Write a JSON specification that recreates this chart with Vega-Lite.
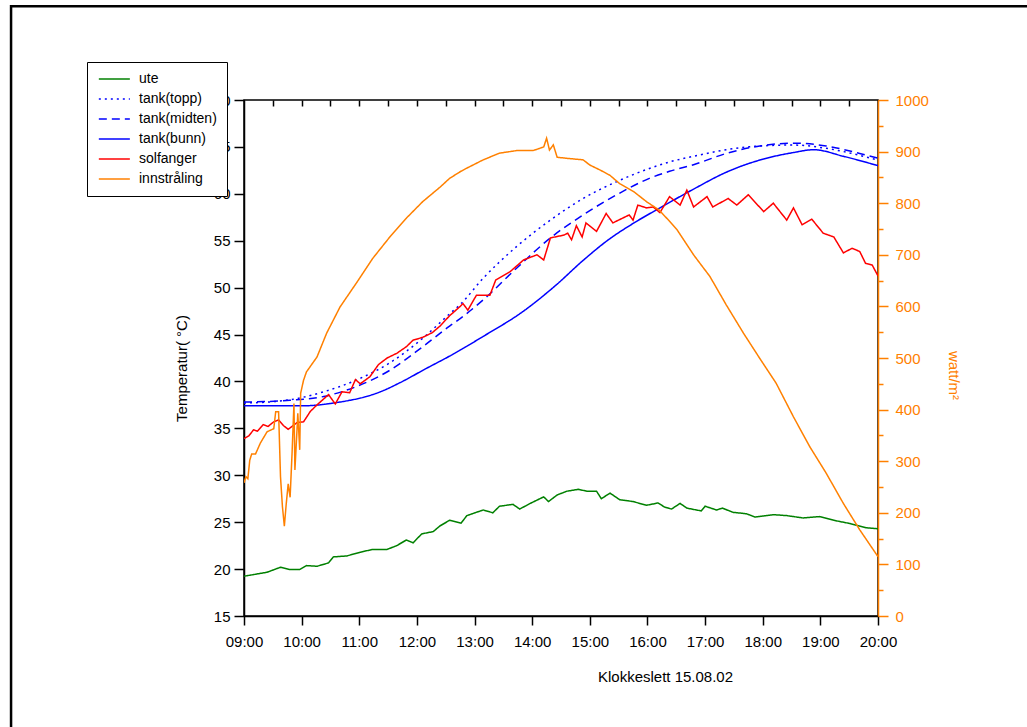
{
  "$schema": "https://vega.github.io/schema/vega-lite/v6.json",
  "width": 634,
  "height": 516,
  "autosize": "none",
  "padding": {"left": 244, "top": 100, "right": 149, "bottom": 111},
  "background": "white",
  "config": {
    "view": {"stroke": "black", "strokeWidth": 1.5},
    "font": "Liberation Sans",
    "axis": {
      "labelFont": "Liberation Sans", "titleFont": "Liberation Sans",
      "labelFontSize": 15, "titleFontSize": 15, "titleFontWeight": "normal",
      "grid": false, "domainColor": "black", "tickColor": "black",
      "labelColor": "black", "titleColor": "black", "domainWidth": 1.5, "tickWidth": 1.5
    },
    "legend": {
      "fillColor": "white", "strokeColor": "black", "padding": 10,
      "labelFont": "Liberation Sans", "labelFontSize": 14, "labelColor": "black",
      "symbolType": "M-1,0H5", "symbolSize": 107, "symbolStrokeWidth": 1.5,
      "symbolFillColor": "transparent", "rowPadding": 6, "labelOffset": 28, "cornerRadius": 0
    }
  },
  "resolve": {"scale": {"y": "independent"}, "axis": {"x": "independent"}},
  "layer": [
    {
      "data": {"values": [{}]},
      "mark": {"type": "rect", "fill": "white", "fillOpacity": 0, "stroke": "black", "strokeWidth": 2.5, "clip": false},
      "encoding": {
        "x": {"datum": {"year": 2002, "month": 8, "date": 15, "hours": 4, "minutes": 57, "seconds": 30}, "type": "temporal",
              "scale": {"domain": [{"year": 2002, "month": 8, "date": 15, "hours": 9}, {"year": 2002, "month": 8, "date": 15, "hours": 20}], "nice": false}, "axis": null},
        "x2": {"datum": {"year": 2002, "month": 8, "date": 15, "hours": 22, "minutes": 50}},
        "y": {"datum": 80, "type": "quantitative", "scale": {"domain": [15, 70], "nice": false, "zero": false}, "axis": null},
        "y2": {"datum": 0}
      }
    },
    {
      "data": {"values": [
        {"tid": "2002-08-15T09:00", "serie": "ute", "verdi": 19.24},
        {"tid": "2002-08-15T09:12", "serie": "ute", "verdi": 19.45},
        {"tid": "2002-08-15T09:24", "serie": "ute", "verdi": 19.66},
        {"tid": "2002-08-15T09:38", "serie": "ute", "verdi": 20.2},
        {"tid": "2002-08-15T09:48", "serie": "ute", "verdi": 19.95},
        {"tid": "2002-08-15T09:58", "serie": "ute", "verdi": 19.95},
        {"tid": "2002-08-15T10:05", "serie": "ute", "verdi": 20.37},
        {"tid": "2002-08-15T10:16", "serie": "ute", "verdi": 20.3},
        {"tid": "2002-08-15T10:28", "serie": "ute", "verdi": 20.66},
        {"tid": "2002-08-15T10:33", "serie": "ute", "verdi": 21.3},
        {"tid": "2002-08-15T10:47", "serie": "ute", "verdi": 21.4},
        {"tid": "2002-08-15T11:01", "serie": "ute", "verdi": 21.8},
        {"tid": "2002-08-15T11:14", "serie": "ute", "verdi": 22.1},
        {"tid": "2002-08-15T11:29", "serie": "ute", "verdi": 22.1},
        {"tid": "2002-08-15T11:39", "serie": "ute", "verdi": 22.5},
        {"tid": "2002-08-15T11:49", "serie": "ute", "verdi": 23.1},
        {"tid": "2002-08-15T11:56", "serie": "ute", "verdi": 22.8},
        {"tid": "2002-08-15T12:05", "serie": "ute", "verdi": 23.75},
        {"tid": "2002-08-15T12:17", "serie": "ute", "verdi": 24.0},
        {"tid": "2002-08-15T12:24", "serie": "ute", "verdi": 24.6},
        {"tid": "2002-08-15T12:34", "serie": "ute", "verdi": 25.2},
        {"tid": "2002-08-15T12:46", "serie": "ute", "verdi": 24.9},
        {"tid": "2002-08-15T12:52", "serie": "ute", "verdi": 25.7},
        {"tid": "2002-08-15T13:09", "serie": "ute", "verdi": 26.3},
        {"tid": "2002-08-15T13:19", "serie": "ute", "verdi": 26.0},
        {"tid": "2002-08-15T13:26", "serie": "ute", "verdi": 26.7},
        {"tid": "2002-08-15T13:40", "serie": "ute", "verdi": 26.9},
        {"tid": "2002-08-15T13:47", "serie": "ute", "verdi": 26.4},
        {"tid": "2002-08-15T13:58", "serie": "ute", "verdi": 27.0},
        {"tid": "2002-08-15T14:12", "serie": "ute", "verdi": 27.7},
        {"tid": "2002-08-15T14:17", "serie": "ute", "verdi": 27.2},
        {"tid": "2002-08-15T14:26", "serie": "ute", "verdi": 27.9},
        {"tid": "2002-08-15T14:36", "serie": "ute", "verdi": 28.3},
        {"tid": "2002-08-15T14:48", "serie": "ute", "verdi": 28.5},
        {"tid": "2002-08-15T14:57", "serie": "ute", "verdi": 28.3},
        {"tid": "2002-08-15T15:07", "serie": "ute", "verdi": 28.3},
        {"tid": "2002-08-15T15:12", "serie": "ute", "verdi": 27.5},
        {"tid": "2002-08-15T15:21", "serie": "ute", "verdi": 28.1},
        {"tid": "2002-08-15T15:31", "serie": "ute", "verdi": 27.4},
        {"tid": "2002-08-15T15:45", "serie": "ute", "verdi": 27.2},
        {"tid": "2002-08-15T15:59", "serie": "ute", "verdi": 26.8},
        {"tid": "2002-08-15T16:11", "serie": "ute", "verdi": 27.05},
        {"tid": "2002-08-15T16:18", "serie": "ute", "verdi": 26.6},
        {"tid": "2002-08-15T16:25", "serie": "ute", "verdi": 26.4},
        {"tid": "2002-08-15T16:34", "serie": "ute", "verdi": 27.0},
        {"tid": "2002-08-15T16:41", "serie": "ute", "verdi": 26.5},
        {"tid": "2002-08-15T16:56", "serie": "ute", "verdi": 26.2},
        {"tid": "2002-08-15T17:00", "serie": "ute", "verdi": 26.7},
        {"tid": "2002-08-15T17:12", "serie": "ute", "verdi": 26.3},
        {"tid": "2002-08-15T17:18", "serie": "ute", "verdi": 26.5},
        {"tid": "2002-08-15T17:29", "serie": "ute", "verdi": 26.05},
        {"tid": "2002-08-15T17:43", "serie": "ute", "verdi": 25.9},
        {"tid": "2002-08-15T17:52", "serie": "ute", "verdi": 25.55},
        {"tid": "2002-08-15T18:11", "serie": "ute", "verdi": 25.8},
        {"tid": "2002-08-15T18:25", "serie": "ute", "verdi": 25.7},
        {"tid": "2002-08-15T18:42", "serie": "ute", "verdi": 25.45},
        {"tid": "2002-08-15T18:59", "serie": "ute", "verdi": 25.6},
        {"tid": "2002-08-15T19:14", "serie": "ute", "verdi": 25.2},
        {"tid": "2002-08-15T19:31", "serie": "ute", "verdi": 24.85},
        {"tid": "2002-08-15T19:48", "serie": "ute", "verdi": 24.4},
        {"tid": "2002-08-15T20:00", "serie": "ute", "verdi": 24.3},

        {"tid": "2002-08-15T09:00", "serie": "tank(topp)", "verdi": 37.7},
        {"tid": "2002-08-15T09:24", "serie": "tank(topp)", "verdi": 37.8},
        {"tid": "2002-08-15T09:48", "serie": "tank(topp)", "verdi": 38.05},
        {"tid": "2002-08-15T10:23", "serie": "tank(topp)", "verdi": 38.9},
        {"tid": "2002-08-15T10:58", "serie": "tank(topp)", "verdi": 40.2},
        {"tid": "2002-08-15T11:32", "serie": "tank(topp)", "verdi": 42.0},
        {"tid": "2002-08-15T12:06", "serie": "tank(topp)", "verdi": 44.6},
        {"tid": "2002-08-15T12:34", "serie": "tank(topp)", "verdi": 47.2},
        {"tid": "2002-08-15T12:45", "serie": "tank(topp)", "verdi": 48.2},
        {"tid": "2002-08-15T13:09", "serie": "tank(topp)", "verdi": 51.0},
        {"tid": "2002-08-15T13:44", "serie": "tank(topp)", "verdi": 54.4},
        {"tid": "2002-08-15T14:19", "serie": "tank(topp)", "verdi": 57.2},
        {"tid": "2002-08-15T14:53", "serie": "tank(topp)", "verdi": 59.5},
        {"tid": "2002-08-15T15:28", "serie": "tank(topp)", "verdi": 61.3},
        {"tid": "2002-08-15T16:02", "serie": "tank(topp)", "verdi": 62.7},
        {"tid": "2002-08-15T16:23", "serie": "tank(topp)", "verdi": 63.4},
        {"tid": "2002-08-15T16:48", "serie": "tank(topp)", "verdi": 64.0},
        {"tid": "2002-08-15T17:22", "serie": "tank(topp)", "verdi": 64.7},
        {"tid": "2002-08-15T17:57", "serie": "tank(topp)", "verdi": 65.1},
        {"tid": "2002-08-15T18:32", "serie": "tank(topp)", "verdi": 65.2},
        {"tid": "2002-08-15T19:06", "serie": "tank(topp)", "verdi": 64.85},
        {"tid": "2002-08-15T19:41", "serie": "tank(topp)", "verdi": 64.1},
        {"tid": "2002-08-15T20:00", "serie": "tank(topp)", "verdi": 63.6},

        {"tid": "2002-08-15T09:00", "serie": "tank(midten)", "verdi": 37.8},
        {"tid": "2002-08-15T09:48", "serie": "tank(midten)", "verdi": 38.0},
        {"tid": "2002-08-15T10:23", "serie": "tank(midten)", "verdi": 38.4},
        {"tid": "2002-08-15T10:58", "serie": "tank(midten)", "verdi": 39.5},
        {"tid": "2002-08-15T11:32", "serie": "tank(midten)", "verdi": 41.2},
        {"tid": "2002-08-15T12:06", "serie": "tank(midten)", "verdi": 43.7},
        {"tid": "2002-08-15T12:34", "serie": "tank(midten)", "verdi": 45.9},
        {"tid": "2002-08-15T12:45", "serie": "tank(midten)", "verdi": 46.7},
        {"tid": "2002-08-15T13:09", "serie": "tank(midten)", "verdi": 48.7},
        {"tid": "2002-08-15T13:44", "serie": "tank(midten)", "verdi": 52.1},
        {"tid": "2002-08-15T14:19", "serie": "tank(midten)", "verdi": 55.3},
        {"tid": "2002-08-15T14:53", "serie": "tank(midten)", "verdi": 57.75},
        {"tid": "2002-08-15T15:28", "serie": "tank(midten)", "verdi": 59.9},
        {"tid": "2002-08-15T16:02", "serie": "tank(midten)", "verdi": 61.65},
        {"tid": "2002-08-15T16:23", "serie": "tank(midten)", "verdi": 62.4},
        {"tid": "2002-08-15T16:48", "serie": "tank(midten)", "verdi": 63.1},
        {"tid": "2002-08-15T17:22", "serie": "tank(midten)", "verdi": 64.3},
        {"tid": "2002-08-15T17:57", "serie": "tank(midten)", "verdi": 65.1},
        {"tid": "2002-08-15T18:32", "serie": "tank(midten)", "verdi": 65.4},
        {"tid": "2002-08-15T19:06", "serie": "tank(midten)", "verdi": 65.1},
        {"tid": "2002-08-15T19:41", "serie": "tank(midten)", "verdi": 64.3},
        {"tid": "2002-08-15T20:00", "serie": "tank(midten)", "verdi": 63.8},

        {"tid": "2002-08-15T09:00", "serie": "tank(bunn)", "verdi": 37.4},
        {"tid": "2002-08-15T09:30", "serie": "tank(bunn)", "verdi": 37.4},
        {"tid": "2002-08-15T10:00", "serie": "tank(bunn)", "verdi": 37.4},
        {"tid": "2002-08-15T10:18", "serie": "tank(bunn)", "verdi": 37.5},
        {"tid": "2002-08-15T10:33", "serie": "tank(bunn)", "verdi": 37.7},
        {"tid": "2002-08-15T10:48", "serie": "tank(bunn)", "verdi": 37.95},
        {"tid": "2002-08-15T11:04", "serie": "tank(bunn)", "verdi": 38.3},
        {"tid": "2002-08-15T11:22", "serie": "tank(bunn)", "verdi": 38.9},
        {"tid": "2002-08-15T11:43", "serie": "tank(bunn)", "verdi": 39.9},
        {"tid": "2002-08-15T12:10", "serie": "tank(bunn)", "verdi": 41.4},
        {"tid": "2002-08-15T12:34", "serie": "tank(bunn)", "verdi": 42.7},
        {"tid": "2002-08-15T13:09", "serie": "tank(bunn)", "verdi": 44.8},
        {"tid": "2002-08-15T13:51", "serie": "tank(bunn)", "verdi": 47.5},
        {"tid": "2002-08-15T14:24", "serie": "tank(bunn)", "verdi": 50.2},
        {"tid": "2002-08-15T14:53", "serie": "tank(bunn)", "verdi": 52.9},
        {"tid": "2002-08-15T15:18", "serie": "tank(bunn)", "verdi": 55.0},
        {"tid": "2002-08-15T15:46", "serie": "tank(bunn)", "verdi": 56.9},
        {"tid": "2002-08-15T16:13", "serie": "tank(bunn)", "verdi": 58.5},
        {"tid": "2002-08-15T16:48", "serie": "tank(bunn)", "verdi": 60.5},
        {"tid": "2002-08-15T17:22", "serie": "tank(bunn)", "verdi": 62.3},
        {"tid": "2002-08-15T17:57", "serie": "tank(bunn)", "verdi": 63.6},
        {"tid": "2002-08-15T18:32", "serie": "tank(bunn)", "verdi": 64.4},
        {"tid": "2002-08-15T18:53", "serie": "tank(bunn)", "verdi": 64.7},
        {"tid": "2002-08-15T19:24", "serie": "tank(bunn)", "verdi": 64.0},
        {"tid": "2002-08-15T20:00", "serie": "tank(bunn)", "verdi": 63.0},

        {"tid": "2002-08-15T09:00", "serie": "solfanger", "verdi": 33.9},
        {"tid": "2002-08-15T09:05", "serie": "solfanger", "verdi": 34.2},
        {"tid": "2002-08-15T09:10", "serie": "solfanger", "verdi": 34.85},
        {"tid": "2002-08-15T09:14", "serie": "solfanger", "verdi": 34.7},
        {"tid": "2002-08-15T09:20", "serie": "solfanger", "verdi": 35.4},
        {"tid": "2002-08-15T09:25", "serie": "solfanger", "verdi": 35.2},
        {"tid": "2002-08-15T09:31", "serie": "solfanger", "verdi": 35.7},
        {"tid": "2002-08-15T09:36", "serie": "solfanger", "verdi": 35.9},
        {"tid": "2002-08-15T09:41", "serie": "solfanger", "verdi": 35.3},
        {"tid": "2002-08-15T09:46", "serie": "solfanger", "verdi": 34.9},
        {"tid": "2002-08-15T09:55", "serie": "solfanger", "verdi": 35.6},
        {"tid": "2002-08-15T10:02", "serie": "solfanger", "verdi": 35.7},
        {"tid": "2002-08-15T10:09", "serie": "solfanger", "verdi": 36.8},
        {"tid": "2002-08-15T10:16", "serie": "solfanger", "verdi": 37.5},
        {"tid": "2002-08-15T10:28", "serie": "solfanger", "verdi": 38.6},
        {"tid": "2002-08-15T10:35", "serie": "solfanger", "verdi": 37.6},
        {"tid": "2002-08-15T10:42", "serie": "solfanger", "verdi": 38.9},
        {"tid": "2002-08-15T10:50", "serie": "solfanger", "verdi": 38.8},
        {"tid": "2002-08-15T10:56", "serie": "solfanger", "verdi": 40.2},
        {"tid": "2002-08-15T11:01", "serie": "solfanger", "verdi": 39.75},
        {"tid": "2002-08-15T11:11", "serie": "solfanger", "verdi": 40.5},
        {"tid": "2002-08-15T11:20", "serie": "solfanger", "verdi": 41.8},
        {"tid": "2002-08-15T11:29", "serie": "solfanger", "verdi": 42.5},
        {"tid": "2002-08-15T11:39", "serie": "solfanger", "verdi": 43.0},
        {"tid": "2002-08-15T11:49", "serie": "solfanger", "verdi": 43.7},
        {"tid": "2002-08-15T11:56", "serie": "solfanger", "verdi": 44.4},
        {"tid": "2002-08-15T12:06", "serie": "solfanger", "verdi": 44.7},
        {"tid": "2002-08-15T12:16", "serie": "solfanger", "verdi": 45.2},
        {"tid": "2002-08-15T12:24", "serie": "solfanger", "verdi": 45.9},
        {"tid": "2002-08-15T12:34", "serie": "solfanger", "verdi": 47.0},
        {"tid": "2002-08-15T12:45", "serie": "solfanger", "verdi": 48.0},
        {"tid": "2002-08-15T12:48", "serie": "solfanger", "verdi": 48.3},
        {"tid": "2002-08-15T12:53", "serie": "solfanger", "verdi": 47.6},
        {"tid": "2002-08-15T13:02", "serie": "solfanger", "verdi": 49.2},
        {"tid": "2002-08-15T13:16", "serie": "solfanger", "verdi": 49.2},
        {"tid": "2002-08-15T13:22", "serie": "solfanger", "verdi": 50.8},
        {"tid": "2002-08-15T13:37", "serie": "solfanger", "verdi": 51.7},
        {"tid": "2002-08-15T13:51", "serie": "solfanger", "verdi": 52.95},
        {"tid": "2002-08-15T14:05", "serie": "solfanger", "verdi": 53.5},
        {"tid": "2002-08-15T14:12", "serie": "solfanger", "verdi": 52.95},
        {"tid": "2002-08-15T14:19", "serie": "solfanger", "verdi": 55.3},
        {"tid": "2002-08-15T14:33", "serie": "solfanger", "verdi": 55.6},
        {"tid": "2002-08-15T14:37", "serie": "solfanger", "verdi": 55.8},
        {"tid": "2002-08-15T14:41", "serie": "solfanger", "verdi": 55.1},
        {"tid": "2002-08-15T14:46", "serie": "solfanger", "verdi": 56.6},
        {"tid": "2002-08-15T14:52", "serie": "solfanger", "verdi": 55.4},
        {"tid": "2002-08-15T14:56", "serie": "solfanger", "verdi": 56.9},
        {"tid": "2002-08-15T15:07", "serie": "solfanger", "verdi": 56.0},
        {"tid": "2002-08-15T15:17", "serie": "solfanger", "verdi": 57.9},
        {"tid": "2002-08-15T15:24", "serie": "solfanger", "verdi": 56.9},
        {"tid": "2002-08-15T15:41", "serie": "solfanger", "verdi": 57.75},
        {"tid": "2002-08-15T15:45", "serie": "solfanger", "verdi": 57.2},
        {"tid": "2002-08-15T15:50", "serie": "solfanger", "verdi": 58.8},
        {"tid": "2002-08-15T15:59", "serie": "solfanger", "verdi": 58.5},
        {"tid": "2002-08-15T16:06", "serie": "solfanger", "verdi": 58.6},
        {"tid": "2002-08-15T16:13", "serie": "solfanger", "verdi": 58.0},
        {"tid": "2002-08-15T16:23", "serie": "solfanger", "verdi": 59.7},
        {"tid": "2002-08-15T16:34", "serie": "solfanger", "verdi": 58.8},
        {"tid": "2002-08-15T16:41", "serie": "solfanger", "verdi": 60.4},
        {"tid": "2002-08-15T16:48", "serie": "solfanger", "verdi": 58.6},
        {"tid": "2002-08-15T17:02", "serie": "solfanger", "verdi": 59.7},
        {"tid": "2002-08-15T17:08", "serie": "solfanger", "verdi": 58.6},
        {"tid": "2002-08-15T17:24", "serie": "solfanger", "verdi": 59.5},
        {"tid": "2002-08-15T17:33", "serie": "solfanger", "verdi": 58.8},
        {"tid": "2002-08-15T17:45", "serie": "solfanger", "verdi": 59.9},
        {"tid": "2002-08-15T18:01", "serie": "solfanger", "verdi": 58.1},
        {"tid": "2002-08-15T18:11", "serie": "solfanger", "verdi": 59.0},
        {"tid": "2002-08-15T18:25", "serie": "solfanger", "verdi": 57.2},
        {"tid": "2002-08-15T18:32", "serie": "solfanger", "verdi": 58.5},
        {"tid": "2002-08-15T18:41", "serie": "solfanger", "verdi": 56.7},
        {"tid": "2002-08-15T18:51", "serie": "solfanger", "verdi": 57.3},
        {"tid": "2002-08-15T19:03", "serie": "solfanger", "verdi": 55.8},
        {"tid": "2002-08-15T19:14", "serie": "solfanger", "verdi": 55.4},
        {"tid": "2002-08-15T19:24", "serie": "solfanger", "verdi": 53.7},
        {"tid": "2002-08-15T19:33", "serie": "solfanger", "verdi": 54.2},
        {"tid": "2002-08-15T19:41", "serie": "solfanger", "verdi": 53.85},
        {"tid": "2002-08-15T19:47", "serie": "solfanger", "verdi": 52.6},
        {"tid": "2002-08-15T19:54", "serie": "solfanger", "verdi": 52.4},
        {"tid": "2002-08-15T20:00", "serie": "solfanger", "verdi": 51.25}
      ]},
      "layer": [
        {
          "transform": [{"filter": "indexof(datum.serie, 'tank') == 0"}],
          "mark": {"type": "line", "strokeWidth": 1.5, "clip": true, "interpolate": "monotone"},
          "encoding": {
            "x": {"field": "tid", "type": "temporal",
                  "scale": {"domain": [{"year": 2002, "month": 8, "date": 15, "hours": 9}, {"year": 2002, "month": 8, "date": 15, "hours": 20}], "nice": false},
                  "axis": {"orient": "bottom",
                    "values": [
                      {"year": 2002, "month": 8, "date": 15, "hours": 9, "minutes": 0}, {"year": 2002, "month": 8, "date": 15, "hours": 9, "minutes": 30},
                      {"year": 2002, "month": 8, "date": 15, "hours": 10, "minutes": 0}, {"year": 2002, "month": 8, "date": 15, "hours": 10, "minutes": 30},
                      {"year": 2002, "month": 8, "date": 15, "hours": 11, "minutes": 0}, {"year": 2002, "month": 8, "date": 15, "hours": 11, "minutes": 30},
                      {"year": 2002, "month": 8, "date": 15, "hours": 12, "minutes": 0}, {"year": 2002, "month": 8, "date": 15, "hours": 12, "minutes": 30},
                      {"year": 2002, "month": 8, "date": 15, "hours": 13, "minutes": 0}, {"year": 2002, "month": 8, "date": 15, "hours": 13, "minutes": 30},
                      {"year": 2002, "month": 8, "date": 15, "hours": 14, "minutes": 0}, {"year": 2002, "month": 8, "date": 15, "hours": 14, "minutes": 30},
                      {"year": 2002, "month": 8, "date": 15, "hours": 15, "minutes": 0}, {"year": 2002, "month": 8, "date": 15, "hours": 15, "minutes": 30},
                      {"year": 2002, "month": 8, "date": 15, "hours": 16, "minutes": 0}, {"year": 2002, "month": 8, "date": 15, "hours": 16, "minutes": 30},
                      {"year": 2002, "month": 8, "date": 15, "hours": 17, "minutes": 0}, {"year": 2002, "month": 8, "date": 15, "hours": 17, "minutes": 30},
                      {"year": 2002, "month": 8, "date": 15, "hours": 18, "minutes": 0}, {"year": 2002, "month": 8, "date": 15, "hours": 18, "minutes": 30},
                      {"year": 2002, "month": 8, "date": 15, "hours": 19, "minutes": 0}, {"year": 2002, "month": 8, "date": 15, "hours": 19, "minutes": 30},
                      {"year": 2002, "month": 8, "date": 15, "hours": 20, "minutes": 0}
                    ],
                    "labelExpr": "minutes(datum.value) == 0 ? timeFormat(datum.value, '%H:%M') : ''",
                    "tickSize": {"condition": {"test": "minutes(datum.value) != 0", "value": 5}, "value": 9},
                    "labelPadding": 9, "labelFlush": false, "labelOverlap": false,
                    "title": "Klokkeslett 15.08.02", "titleX": 421, "titleY": 60, "titleBaseline": "middle", "titleAlign": "center"}},
            "y": {"field": "verdi", "type": "quantitative",
                  "scale": {"domain": [15, 70], "nice": false, "zero": false},
                  "axis": {"orient": "left",
                    "values": [15, 17.5, 20, 22.5, 25, 27.5, 30, 32.5, 35, 37.5, 40, 42.5, 45, 47.5, 50, 52.5, 55, 57.5, 60, 62.5, 65, 67.5, 70],
                    "labelExpr": "datum.value % 5 == 0 ? datum.label : ''",
                    "tickSize": {"condition": {"test": "datum.value % 5 != 0", "value": 5}, "value": 10},
                    "labelPadding": 4, "labelOverlap": false, "labelFlush": false,
                    "title": "Temperatur( °C)", "titleX": -63, "titleY": 268, "titleAngle": -90, "titleBaseline": "middle", "titleAlign": "center"}},
            "color": {"field": "serie", "type": "nominal",
                      "scale": {"domain": ["ute", "tank(topp)", "tank(midten)", "tank(bunn)", "solfanger", "innstråling"],
                                "range": ["#008000", "#0000ff", "#0000ff", "#0000ff", "#ff0000", "#ff8000"]},
                      "legend": {"title": null, "orient": "none", "legendX": -157, "legendY": -38}},
            "strokeDash": {"field": "serie", "type": "nominal",
                      "scale": {"domain": ["ute", "tank(topp)", "tank(midten)", "tank(bunn)", "solfanger", "innstråling"],
                                "range": [[1, 0], [2, 4], [8, 5], [1, 0], [1, 0], [1, 0]]},
                      "legend": {"title": null, "orient": "none", "legendX": -157, "legendY": -38}}
          }
        },
        {
          "transform": [{"filter": "indexof(datum.serie, 'tank') != 0"}],
          "mark": {"type": "line", "strokeWidth": 1.5, "clip": true},
          "encoding": {
            "x": {"field": "tid", "type": "temporal"},
            "y": {"field": "verdi", "type": "quantitative"},
            "color": {"field": "serie", "type": "nominal"},
            "strokeDash": {"field": "serie", "type": "nominal"}
          }
        }
      ]
    },
    {
      "data": {"values": [
        {"tid": "2002-08-15T09:00", "serie": "innstråling", "watt": 258},
        {"tid": "2002-08-15T09:02", "serie": "innstråling", "watt": 270},
        {"tid": "2002-08-15T09:04", "serie": "innstråling", "watt": 266},
        {"tid": "2002-08-15T09:06", "serie": "innstråling", "watt": 302},
        {"tid": "2002-08-15T09:08", "serie": "innstråling", "watt": 314},
        {"tid": "2002-08-15T09:12", "serie": "innstråling", "watt": 314},
        {"tid": "2002-08-15T09:17", "serie": "innstråling", "watt": 335},
        {"tid": "2002-08-15T09:24", "serie": "innstråling", "watt": 357},
        {"tid": "2002-08-15T09:31", "serie": "innstråling", "watt": 363},
        {"tid": "2002-08-15T09:33", "serie": "innstråling", "watt": 396},
        {"tid": "2002-08-15T09:36", "serie": "innstråling", "watt": 396},
        {"tid": "2002-08-15T09:38", "serie": "innstråling", "watt": 270},
        {"tid": "2002-08-15T09:40", "serie": "innstråling", "watt": 212},
        {"tid": "2002-08-15T09:42", "serie": "innstråling", "watt": 174},
        {"tid": "2002-08-15T09:44", "serie": "innstråling", "watt": 218},
        {"tid": "2002-08-15T09:46", "serie": "innstråling", "watt": 256},
        {"tid": "2002-08-15T09:48", "serie": "innstråling", "watt": 230},
        {"tid": "2002-08-15T09:50", "serie": "innstråling", "watt": 314},
        {"tid": "2002-08-15T09:52", "serie": "innstråling", "watt": 412},
        {"tid": "2002-08-15T09:53", "serie": "innstråling", "watt": 283},
        {"tid": "2002-08-15T09:55", "serie": "innstråling", "watt": 354},
        {"tid": "2002-08-15T09:56", "serie": "innstråling", "watt": 393},
        {"tid": "2002-08-15T09:58", "serie": "innstråling", "watt": 322},
        {"tid": "2002-08-15T09:59", "serie": "innstråling", "watt": 432},
        {"tid": "2002-08-15T10:02", "serie": "innstråling", "watt": 457},
        {"tid": "2002-08-15T10:05", "serie": "innstråling", "watt": 473},
        {"tid": "2002-08-15T10:16", "serie": "innstråling", "watt": 502},
        {"tid": "2002-08-15T10:26", "serie": "innstråling", "watt": 548},
        {"tid": "2002-08-15T10:40", "serie": "innstråling", "watt": 599},
        {"tid": "2002-08-15T10:58", "serie": "innstråling", "watt": 648},
        {"tid": "2002-08-15T11:14", "serie": "innstråling", "watt": 693},
        {"tid": "2002-08-15T11:32", "serie": "innstråling", "watt": 735},
        {"tid": "2002-08-15T11:49", "serie": "innstråling", "watt": 771},
        {"tid": "2002-08-15T12:06", "serie": "innstråling", "watt": 803},
        {"tid": "2002-08-15T12:24", "serie": "innstråling", "watt": 831},
        {"tid": "2002-08-15T12:34", "serie": "innstråling", "watt": 848},
        {"tid": "2002-08-15T12:45", "serie": "innstråling", "watt": 861},
        {"tid": "2002-08-15T12:52", "serie": "innstråling", "watt": 868},
        {"tid": "2002-08-15T13:09", "serie": "innstråling", "watt": 884},
        {"tid": "2002-08-15T13:26", "serie": "innstråling", "watt": 897},
        {"tid": "2002-08-15T13:44", "serie": "innstråling", "watt": 902},
        {"tid": "2002-08-15T14:01", "serie": "innstråling", "watt": 902},
        {"tid": "2002-08-15T14:12", "serie": "innstråling", "watt": 909},
        {"tid": "2002-08-15T14:15", "serie": "innstråling", "watt": 926},
        {"tid": "2002-08-15T14:18", "serie": "innstråling", "watt": 903},
        {"tid": "2002-08-15T14:22", "serie": "innstråling", "watt": 913},
        {"tid": "2002-08-15T14:26", "serie": "innstråling", "watt": 889},
        {"tid": "2002-08-15T14:36", "serie": "innstråling", "watt": 887},
        {"tid": "2002-08-15T14:53", "serie": "innstråling", "watt": 884},
        {"tid": "2002-08-15T15:00", "serie": "innstråling", "watt": 874},
        {"tid": "2002-08-15T15:11", "serie": "innstråling", "watt": 864},
        {"tid": "2002-08-15T15:21", "serie": "innstråling", "watt": 854},
        {"tid": "2002-08-15T15:31", "serie": "innstråling", "watt": 838},
        {"tid": "2002-08-15T15:46", "serie": "innstråling", "watt": 822},
        {"tid": "2002-08-15T15:59", "serie": "innstråling", "watt": 803},
        {"tid": "2002-08-15T16:12", "serie": "innstråling", "watt": 787},
        {"tid": "2002-08-15T16:23", "serie": "innstråling", "watt": 765},
        {"tid": "2002-08-15T16:31", "serie": "innstråling", "watt": 748},
        {"tid": "2002-08-15T16:48", "serie": "innstråling", "watt": 700},
        {"tid": "2002-08-15T17:05", "serie": "innstråling", "watt": 658},
        {"tid": "2002-08-15T17:22", "serie": "innstråling", "watt": 603},
        {"tid": "2002-08-15T17:40", "serie": "innstråling", "watt": 548},
        {"tid": "2002-08-15T17:57", "serie": "innstråling", "watt": 499},
        {"tid": "2002-08-15T18:14", "serie": "innstråling", "watt": 451},
        {"tid": "2002-08-15T18:32", "serie": "innstråling", "watt": 386},
        {"tid": "2002-08-15T18:49", "serie": "innstråling", "watt": 328},
        {"tid": "2002-08-15T19:06", "serie": "innstråling", "watt": 277},
        {"tid": "2002-08-15T19:24", "serie": "innstråling", "watt": 218},
        {"tid": "2002-08-15T19:41", "serie": "innstråling", "watt": 167},
        {"tid": "2002-08-15T20:00", "serie": "innstråling", "watt": 115}
      ]},
      "mark": {"type": "line", "strokeWidth": 1.5, "clip": true},
      "encoding": {
        "x": {"field": "tid", "type": "temporal",
              "scale": {"domain": [{"year": 2002, "month": 8, "date": 15, "hours": 9}, {"year": 2002, "month": 8, "date": 15, "hours": 20}], "nice": false},
              "axis": {"orient": "top", "labels": false, "domain": false, "title": null, "tickSize": -6,
                "values": [
                  {"year": 2002, "month": 8, "date": 15, "hours": 9, "minutes": 30},
                  {"year": 2002, "month": 8, "date": 15, "hours": 10, "minutes": 0}, {"year": 2002, "month": 8, "date": 15, "hours": 10, "minutes": 30},
                  {"year": 2002, "month": 8, "date": 15, "hours": 11, "minutes": 0}, {"year": 2002, "month": 8, "date": 15, "hours": 11, "minutes": 30},
                  {"year": 2002, "month": 8, "date": 15, "hours": 12, "minutes": 0}, {"year": 2002, "month": 8, "date": 15, "hours": 12, "minutes": 30},
                  {"year": 2002, "month": 8, "date": 15, "hours": 13, "minutes": 0}, {"year": 2002, "month": 8, "date": 15, "hours": 13, "minutes": 30},
                  {"year": 2002, "month": 8, "date": 15, "hours": 14, "minutes": 0}, {"year": 2002, "month": 8, "date": 15, "hours": 14, "minutes": 30},
                  {"year": 2002, "month": 8, "date": 15, "hours": 15, "minutes": 0}, {"year": 2002, "month": 8, "date": 15, "hours": 15, "minutes": 30},
                  {"year": 2002, "month": 8, "date": 15, "hours": 16, "minutes": 0}, {"year": 2002, "month": 8, "date": 15, "hours": 16, "minutes": 30},
                  {"year": 2002, "month": 8, "date": 15, "hours": 17, "minutes": 0}, {"year": 2002, "month": 8, "date": 15, "hours": 17, "minutes": 30},
                  {"year": 2002, "month": 8, "date": 15, "hours": 18, "minutes": 0}, {"year": 2002, "month": 8, "date": 15, "hours": 18, "minutes": 30},
                  {"year": 2002, "month": 8, "date": 15, "hours": 19, "minutes": 0}, {"year": 2002, "month": 8, "date": 15, "hours": 19, "minutes": 30}
                ]}},
        "y": {"field": "watt", "type": "quantitative",
              "scale": {"domain": [0, 1000], "nice": false},
              "axis": {"orient": "right",
                "values": [0, 50, 100, 150, 200, 250, 300, 350, 400, 450, 500, 550, 600, 650, 700, 750, 800, 850, 900, 950, 1000],
                "labelExpr": "datum.value % 100 == 0 ? format(datum.value, 'd') : ''",
                "tickSize": {"condition": {"test": "datum.value % 100 != 0", "value": 5}, "value": 10},
                "labelPadding": 7, "labelOverlap": false, "labelFlush": false,
                "domainColor": "#ff8000", "tickColor": "#ff8000", "labelColor": "#ff8000", "titleColor": "#ff8000",
                "title": "watt/m²", "titleX": 75, "titleY": 275, "titleAngle": 90, "titleBaseline": "middle", "titleAlign": "center"}},
        "color": {"field": "serie", "type": "nominal",
                  "scale": {"domain": ["ute", "tank(topp)", "tank(midten)", "tank(bunn)", "solfanger", "innstråling"],
                            "range": ["#008000", "#0000ff", "#0000ff", "#0000ff", "#ff0000", "#ff8000"]},
                  "legend": {"title": null, "orient": "none", "legendX": -157, "legendY": -38}},
        "strokeDash": {"field": "serie", "type": "nominal",
                  "scale": {"domain": ["ute", "tank(topp)", "tank(midten)", "tank(bunn)", "solfanger", "innstråling"],
                            "range": [[1, 0], [2, 4], [8, 5], [1, 0], [1, 0], [1, 0]]},
                  "legend": {"title": null, "orient": "none", "legendX": -157, "legendY": -38}}
      }
    }
  ]
}
